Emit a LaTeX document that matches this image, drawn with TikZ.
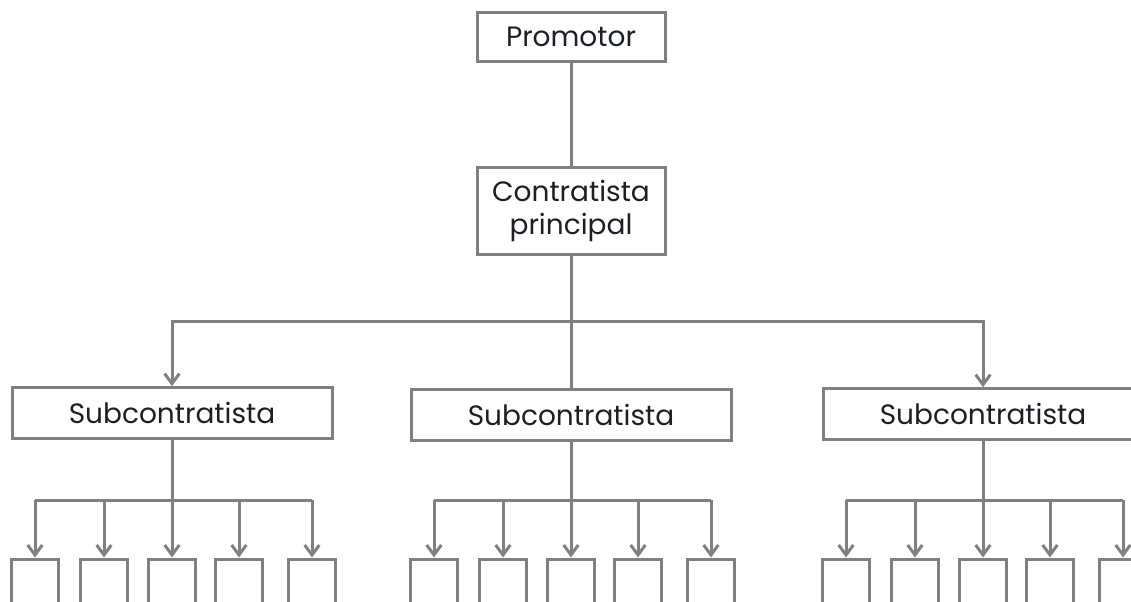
\documentclass[tikz,border=0pt]{standalone}
\usepackage{fontspec}
\setmainfont{Poppins}
\usetikzlibrary{arrows.meta,positioning,calc}
\definecolor{linegray}{RGB}{128,128,128}
\definecolor{textdark}{RGB}{30,30,40}
\tikzset{
  orgbox/.style={draw=linegray, line width=2.25pt, inner sep=0pt, align=center,
    text=textdark, font=\fontsize{21}{25}\selectfont},
  topbox/.style={orgbox, minimum width=141pt, minimum height=37pt},
  mainbox/.style={orgbox, minimum width=141pt, minimum height=65pt},
  subbox/.style={orgbox, minimum width=240pt, minimum height=38pt},
  leafbox/.style={orgbox, minimum width=35pt, minimum height=45pt},
  link/.style={draw=linegray, line width=2.25pt},
  >={Straight Barb[length=7.5pt,width=11pt]}
}

\begin{document}
\begin{tikzpicture}[x=0.75pt,y=-0.75pt]
    \useasboundingbox (0,0) rectangle (1131,602);
    \clip (0,0) rectangle (1131,602);
    \node[topbox] (promotor) at (571,37) {Promotor};
    \node[mainbox] (contratista) at (571,211) {Contratista\\principal};
    \node[subbox] (sub1) at (172,413) {Subcontratista};
    \node[subbox] (sub2) at (571,415) {Subcontratista};
    \node[subbox] (sub3) at (983,414) {Subcontratista};
    \coordinate (split) at (571,321);
    \draw[link] (promotor) -- (contratista);
    \draw[link] (contratista) -- (sub2);
    \draw[link,->] (split) -| (sub1);
    \draw[link,->] (split) -| (sub3);
    % five empty boxes under each subcontractor
    \foreach \s in {1,2,3} {
      \coordinate (fork\s) at (sub\s.south |- 0,500);
      \draw[link] (sub\s) -- (fork\s);
      \foreach \dx [count=\k] in {-137,-68,0,67,140} {
        \node[leafbox] (leaf\s\k) at ($(fork\s)+(\dx,89)$) {};
        \draw[link,->] (fork\s -| leaf\s\k) -- (leaf\s\k);
      }
      \draw[link] (fork\s -| leaf\s1) -- (fork\s -| leaf\s5);
    }
  \end{tikzpicture}
\end{document}
